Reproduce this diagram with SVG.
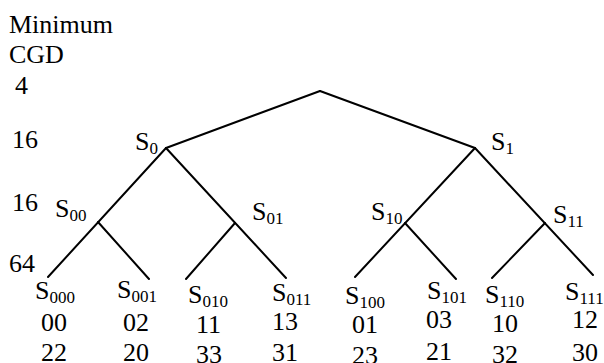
<svg xmlns="http://www.w3.org/2000/svg" width="604" height="363" viewBox="0 0 604 363">
<style>
text{font-family:'Times New Roman','Liberation Serif','DejaVu Serif',serif;font-size:26px;fill:#000}
.sub{font-size:17px}
line{stroke:#000;stroke-width:2;stroke-linecap:round}
</style>
<rect width="604" height="363" fill="#fff"/>
<g id="axis">
<text x="9" y="33">Minimum</text>
<text x="9" y="63">CGD</text>
<text x="15" y="94">4</text>
<text x="12" y="148">16</text>
<text x="12" y="211">16</text>
<text x="9" y="272">64</text>
</g>
<g id="connectors">
<line x1="320" y1="91" x2="166" y2="148"/>
<line x1="320" y1="91" x2="475" y2="148"/>
<line x1="166" y1="148" x2="48" y2="277"/>
<line x1="166" y1="148" x2="286" y2="278"/>
<line x1="98" y1="222" x2="149" y2="279"/>
<line x1="235" y1="223" x2="186" y2="279"/>
<line x1="475" y1="148" x2="355" y2="277"/>
<line x1="475" y1="148" x2="593" y2="275"/>
<line x1="405" y1="223" x2="456" y2="279"/>
<line x1="545" y1="223" x2="492" y2="278"/>
</g>
<g id="root"></g>
<g id="S0"><text x="135" y="150">S<tspan class="sub" dy="4">0</tspan></text></g>
<g id="S1"><text x="491" y="150">S<tspan class="sub" dy="4">1</tspan></text></g>
<g id="S00"><text x="55" y="217">S<tspan class="sub" dy="4">00</tspan></text></g>
<g id="S01"><text x="252" y="220">S<tspan class="sub" dy="4">01</tspan></text></g>
<g id="S10"><text x="371" y="220">S<tspan class="sub" dy="4">10</tspan></text></g>
<g id="S11"><text x="553" y="223">S<tspan class="sub" dy="4">11</tspan></text></g>
<g id="S000"><text x="35" y="299">S<tspan class="sub" dy="4">000</tspan></text><text x="41" y="331">00</text><text x="41" y="361">22</text></g>
<g id="S001"><text x="117" y="298">S<tspan class="sub" dy="4">001</tspan></text><text x="123" y="331">02</text><text x="123" y="361">20</text></g>
<g id="S010"><text x="188" y="303">S<tspan class="sub" dy="4">010</tspan></text><text x="196" y="333">11</text><text x="196" y="363">33</text></g>
<g id="S011"><text x="272" y="301">S<tspan class="sub" dy="4">011</tspan></text><text x="272" y="330">13</text><text x="272" y="361">31</text></g>
<g id="S100"><text x="345" y="304">S<tspan class="sub" dy="4">100</tspan></text><text x="352" y="333">01</text><text x="352" y="364">23</text></g>
<g id="S101"><text x="427" y="299">S<tspan class="sub" dy="4">101</tspan></text><text x="426" y="328">03</text><text x="426" y="360">21</text></g>
<g id="S110"><text x="485" y="303">S<tspan class="sub" dy="4">110</tspan></text><text x="492" y="332">10</text><text x="492" y="363">32</text></g>
<g id="S111"><text x="565" y="300">S<tspan class="sub" dy="4">111</tspan></text><text x="572" y="328">12</text><text x="572" y="361">30</text></g>
</svg>
